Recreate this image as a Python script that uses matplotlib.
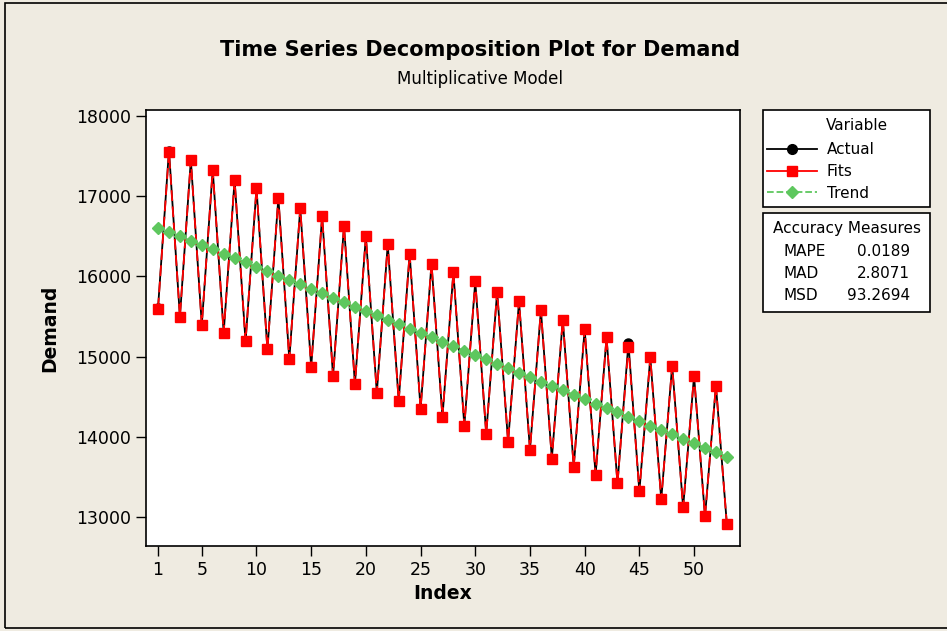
import matplotlib.pyplot as plt
from matplotlib.lines import Line2D
from matplotlib.patches import Rectangle

# data
index = list(range(1, 54))
fits = [15600, 17550, 15500, 17450, 15400, 17330, 15300, 17200, 15190, 17100,
        15090, 16980, 14970, 16850, 14870, 16750, 14760, 16630, 14660, 16500,
        14550, 16400, 14450, 16280, 14350, 16160, 14250, 16050, 14140, 15940,
        14040, 15810, 13940, 15690, 13840, 15580, 13730, 15460, 13630, 15340,
        13530, 15240, 13420, 15120, 13320, 14990, 13220, 14880, 13120, 14760,
        13010, 14640, 12910]
actual = [15610, 17570, 15500, 17450, 15400, 17330, 15300, 17200, 15190, 17100,
          15090, 16980, 14970, 16850, 14870, 16750, 14760, 16630, 14660, 16500,
          14550, 16400, 14450, 16280, 14350, 16160, 14250, 16050, 14140, 15940,
          14040, 15810, 13940, 15690, 13840, 15580, 13730, 15460, 13630, 15340,
          13530, 15240, 13420, 15170, 13320, 14990, 13220, 14890, 13120, 14760,
          13010, 14640, 12910]
trend = [16610, 16555, 16500, 16445, 16390, 16340, 16285, 16230, 16175, 16120,
         16065, 16010, 15955, 15900, 15845, 15790, 15735, 15680, 15625, 15570,
         15515, 15460, 15405, 15350, 15295, 15240, 15185, 15130, 15075, 15020,
         14965, 14910, 14855, 14800, 14745, 14690, 14635, 14580, 14525, 14470,
         14415, 14360, 14305, 14250, 14195, 14140, 14085, 14030, 13975, 13920,
         13865, 13810, 13755]
xticks = [1, 5, 10, 15, 20, 25, 30, 35, 40, 45, 50]
yticks = [13000, 14000, 15000, 16000, 17000, 18000]
measures = [("MAPE", "0.0189"), ("MAD", "2.8071"), ("MSD", "93.2694")]

W, H = 947, 631
bg = "#efebe1"
green = "#5ec75e"
fig = plt.figure(figsize=(W / 100, H / 100), dpi=100, facecolor=bg)
fig.patches.append(Rectangle((5 / W, 3 / H), 1.0, 1.0 - 6 / H,
                             transform=fig.transFigure, fill=False,
                             edgecolor="black", lw=1.2))

ax = fig.add_axes([146 / W, 1 - 546 / H, 594 / W, 436 / H])
ax.set_facecolor("white")

ax.plot(index, actual, color="black", lw=1.3, marker="o", markersize=6.5, zorder=3)
ax.plot(index, fits, color="red", lw=1.3, linestyle=(0, (6, 3)),
        marker="s", markersize=6.5, zorder=4)
ax.plot(index, trend, color=green, lw=1.3, linestyle="--",
        marker="D", markersize=6, zorder=5)

ax.set_xlim(-0.1, 54.2)
ax.set_ylim(12640, 18075)
ax.set_xticks(xticks)
ax.set_yticks(yticks)
ax.tick_params(direction="out", length=7, width=1, labelsize=12.5,
               top=False, right=False)
for sp in ax.spines.values():
    sp.set_linewidth(1.2)

ax.set_xlabel("Index", fontsize=13.5, fontweight="bold", labelpad=4)
ax.set_ylabel("Demand", fontsize=13.5, fontweight="bold", labelpad=12)

fig.text(480 / W, 1 - 50 / H, "Time Series Decomposition Plot for Demand",
         ha="center", va="center", fontsize=15, fontweight="bold")
fig.text(480 / W, 1 - 79 / H, "Multiplicative Model",
         ha="center", va="center", fontsize=12)


def box(x0, y0, w, h):
    fig.patches.append(Rectangle((x0 / W, 1 - (y0 + h) / H), w / W, h / H,
                                 transform=fig.transFigure, facecolor="white",
                                 edgecolor="black", lw=1.2, zorder=1))


# legend box
box(763, 110, 167, 97)
fig.text(826 / W, 1 - 126 / H, "Variable", ha="left", va="center", fontsize=11)
handles = [
    Line2D([], [], color="black", marker="o", markersize=7, lw=1.3),
    Line2D([], [], color="red", marker="s", markersize=7, lw=1.3),
    Line2D([], [], color=green, marker="D", markersize=6.5, lw=1.3, linestyle="--"),
]
leg = fig.legend(handles, ["Actual", "Fits", "Trend"],
                 loc="upper left", bbox_to_anchor=(767 / W, 1 - 142 / H),
                 frameon=False, fontsize=11, handlelength=3.3,
                 borderpad=0, labelspacing=0.45, handletextpad=0.6,
                 borderaxespad=0)

# accuracy measures box
box(763, 213, 167, 99)
fig.text((763 + 167 / 2) / W, 1 - 229 / H, "Accuracy Measures",
         ha="center", va="center", fontsize=11)
for i, (name, val) in enumerate(measures):
    yy = 1 - (252 + i * 22) / H
    fig.text(783 / W, yy, name, ha="left", va="center", fontsize=11)
    fig.text(910 / W, yy, val, ha="right", va="center", fontsize=11)

fig.savefig("out.png", dpi=100, facecolor=bg)
